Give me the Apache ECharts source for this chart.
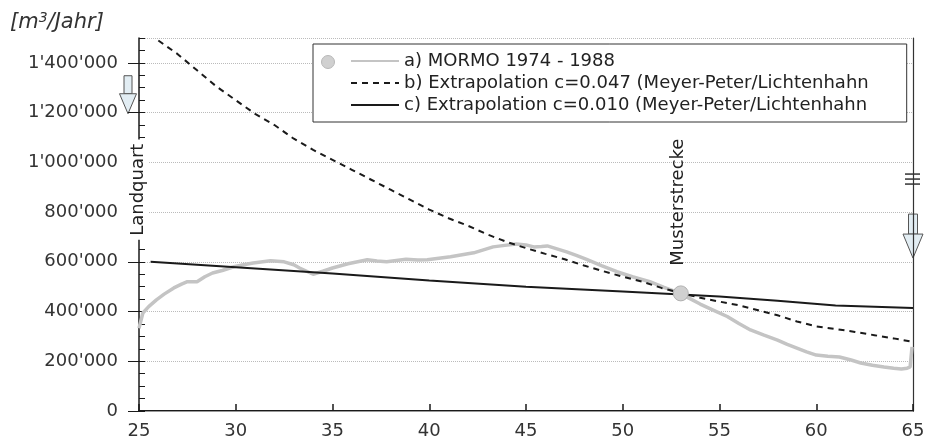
<!DOCTYPE html>
<html>
<head>
<meta charset="utf-8">
<script src="https://cdn.jsdelivr.net/npm/echarts@6/dist/echarts.min.js"></script>
<style>
  html, body { margin: 0; padding: 0; background: #fff; }
  #chart { width: 926px; height: 448px; }
</style>
</head>
<body>
<div id="chart"></div>
<script>
// km (x) and sediment load in m3/year (y)
const mormoX = [25.0, 25.2, 25.5, 25.9, 26.3, 26.8, 27.2, 27.5, 28.0, 28.4, 28.8, 29.3, 29.9, 30.4, 30.9, 31.4,
  31.8, 32.5, 33.0, 33.3, 34.0, 34.5, 35.0, 35.8, 36.8, 37.3, 37.8, 38.3, 38.8, 39.4, 39.9, 40.5, 41.1, 41.7,
  42.3, 42.8, 43.3, 43.9, 44.5, 45.0, 45.4, 45.8, 46.1, 46.6, 47.1, 47.6, 48.1, 48.9, 49.7, 50.5, 51.4, 52.1,
  52.8, 53.4, 54.0, 54.7, 55.4, 56.0, 56.6, 57.3, 58.0, 58.5, 59.0, 59.5, 60.0, 60.6, 61.2, 61.8, 62.3, 62.9,
  63.5, 64.0, 64.4, 64.7, 64.85, 64.95];
const mormoY = [333, 394, 420, 447, 470, 495, 510, 520, 520, 540, 555, 565, 580, 588, 595, 600,
  604, 600, 588, 575, 550, 562, 575, 592, 608, 603, 600, 605, 610, 607, 608, 614, 620, 628,
  636, 648, 660, 666, 672, 668, 660, 662, 664, 652, 640, 626, 611, 585, 560, 540, 520, 498,
  478, 455, 430, 405, 380, 352, 326, 305, 285, 268, 253, 238, 225, 220, 217, 205, 193, 184,
  177, 172, 169, 172, 177, 258].map(v => v * 1000);

const extra047X = [26, 27, 28, 29, 30, 31, 32, 33, 34, 35, 36, 37, 38, 39, 40, 41, 42, 43, 44, 45,
  46, 47, 48, 49, 50, 51, 52, 53, 54, 55, 56, 57, 58, 59, 60, 61, 62, 63, 64, 65];
const extra047Y = [1490, 1435, 1370, 1305, 1250, 1195, 1150, 1095, 1050, 1010, 970, 930, 890, 850, 810, 775,
  745, 710, 680, 655, 632, 610, 585, 562, 540, 520, 495, 475, 455, 440, 425, 405, 385, 360, 340, 330,
  318, 305, 292, 278].map(v => v * 1000);

const extra010X = [25.6, 30, 35, 40, 45, 50, 55, 58, 61, 65];
const extra010Y = [600, 578, 553, 525, 500, 481, 460, 443, 424, 414].map(v => v * 1000);

const seriesNames = [
  'a) MORMO 1974 - 1988',
  'b) Extrapolation c=0.047 (Meyer-Peter/Lichtenhahn',
  'c) Extrapolation c=0.010 (Meyer-Peter/Lichtenhahn'
];
const musterKm = 53;
const musterLoad = 473000;

const zip = (xs, ys) => xs.map((x, i) => [x, ys[i]]);
const fmt = v => String(v).replace(/\B(?=(\d{3})+(?!\d))/g, "'");

const FONT = 'DejaVu Sans';
const chart = echarts.init(document.getElementById('chart'));

const option = {
  animation: false,
  backgroundColor: '#fff',
  title: {
    left: 5,
    top: 6,
    text: '{i|[m}{s|3}{i|/Jahr]}',
    textStyle: {
      fontWeight: 'normal',
      rich: {
        i: { fontFamily: FONT, fontSize: 21, fontStyle: 'italic', fontWeight: 'normal', color: '#333', lineHeight: 24 },
        s: { fontFamily: FONT, fontSize: 14, fontStyle: 'italic', fontWeight: 'normal', color: '#333', verticalAlign: 'top', lineHeight: 24, padding: [0, 0, 6, 0] }
      }
    }
  },
  legend: {
    orient: 'vertical',
    left: 313,
    top: 44,
    padding: [8, 38, 8, 37],
    itemWidth: 48,
    itemHeight: 14,
    itemGap: 4,
    borderColor: '#333',
    borderWidth: 1,
    backgroundColor: '#fff',
    itemStyle: { opacity: 0 },
    textStyle: { fontFamily: FONT, fontSize: 18, color: '#222', lineHeight: 18 },
    data: seriesNames
  },
  grid: { left: 139, right: 13, top: 38, bottom: 37, outerBoundsMode: 'none' },
  xAxis: [
    {
      type: 'value', min: 25, max: 65, interval: 5,
      axisLine: { lineStyle: { color: '#1a1a1a', width: 2 } },
      axisTick: { inside: true, length: 7, lineStyle: { color: '#1a1a1a', width: 1.5 } },
      axisLabel: { fontFamily: FONT, fontSize: 18, color: '#333', margin: 11 },
      splitLine: { show: false }
    },
    {
      type: 'value', min: 25, max: 65, position: 'top',
      axisLine: { lineStyle: { color: '#999', width: 1 } },
      axisTick: { show: false }, axisLabel: { show: false }, splitLine: { show: false }
    }
  ],
  yAxis: [
    {
      type: 'value', min: 0, max: 1500000, interval: 200000, position: 'left',
      axisLine: { show: true, lineStyle: { color: '#1a1a1a', width: 1.5 } },
      axisTick: { show: true, length: 11, lineStyle: { color: '#1a1a1a', width: 1 } },
      axisLabel: { fontFamily: FONT, fontSize: 18, color: '#333', margin: 21, showMaxLabel: false, formatter: fmt },
      splitLine: { show: true, lineStyle: { color: '#bbb', type: 'dotted', width: 1 } }
    },
    {
      type: 'value', min: 0, max: 1500000, interval: 50000, position: 'left',
      axisLine: { show: false },
      axisTick: { show: true, inside: true, length: 6, lineStyle: { color: '#1a1a1a', width: 1 } },
      axisLabel: { show: false }, splitLine: { show: false }
    },
    {
      type: 'value', min: 0, max: 1500000, position: 'right',
      axisLine: { show: true, lineStyle: { color: '#333', width: 1.2 } },
      axisTick: { show: false }, axisLabel: { show: false }, splitLine: { show: false }
    }
  ],
  series: [
    {
      name: seriesNames[0], type: 'line', symbol: 'none',
      data: zip(mormoX, mormoY),
      lineStyle: { color: '#c4c4c4', width: 3.5 },
      itemStyle: { color: '#c4c4c4' },
      markPoint: {
        symbol: 'circle', symbolSize: 15, silent: true,
        label: { show: false },
        itemStyle: { color: '#d0d0d0', borderColor: '#b0b0b0', borderWidth: 1, opacity: 1 },
        data: [{ coord: [musterKm, musterLoad] }]
      },
      z: 2
    },
    {
      name: seriesNames[1], type: 'line', symbol: 'none',
      data: zip(extra047X, extra047Y),
      lineStyle: { color: '#1a1a1a', width: 2, type: [6, 5] },
      itemStyle: { color: '#1a1a1a' },
      z: 3
    },
    {
      name: seriesNames[2], type: 'line', symbol: 'none',
      data: zip(extra010X, extra010Y),
      lineStyle: { color: '#1a1a1a', width: 2 },
      itemStyle: { color: '#1a1a1a' },
      z: 3
    }
  ]
};

chart.setOption(option);

// annotations placed from the axis scales
const px = (x, y) => chart.convertToPixel({ gridIndex: 0 }, [x, y]);
const arrowStyle = { fill: '#e2edf3', stroke: '#555', lineWidth: 1 };
const leftArrow = px(25, 1300000);
const rightArrow = px(65, 800000);
const landquart = px(25, 890000);
const muster = px(musterKm, 840000);
const legendDot = [328, 62];

chart.setOption({
  graphic: [
    {
      type: 'group', x: leftArrow[0] - 11, y: leftArrow[1], z: 10,
      children: [
        { type: 'rect', shape: { x: -4, y: -12, width: 8, height: 18 }, style: arrowStyle },
        { type: 'polygon', shape: { points: [[-8.5, 6], [8.5, 6], [0, 26]] }, style: arrowStyle }
      ]
    },
    {
      type: 'group', x: rightArrow[0], y: rightArrow[1], z: 10,
      children: [
        { type: 'rect', shape: { x: -4.5, y: 2, width: 9, height: 20 }, style: arrowStyle },
        { type: 'polygon', shape: { points: [[-10, 22], [10, 22], [0, 46]] }, style: arrowStyle },
        { type: 'line', shape: { x1: -8, y1: -38, x2: 7, y2: -38 }, style: { stroke: '#333', lineWidth: 1.5 } },
        { type: 'line', shape: { x1: -8, y1: -33, x2: 7, y2: -33 }, style: { stroke: '#333', lineWidth: 1.5 } },
        { type: 'line', shape: { x1: -8, y1: -28, x2: 7, y2: -28 }, style: { stroke: '#333', lineWidth: 1.5 } }
      ]
    },
    {
      type: 'text', x: landquart[0] - 1, y: landquart[1], rotation: Math.PI / 2, z: 10,
      style: {
        text: 'Landquart', fontFamily: FONT, fontSize: 18, fill: '#222',
        align: 'center', verticalAlign: 'middle', backgroundColor: '#fff', padding: [1, 4]
      }
    },
    {
      type: 'text', x: muster[0] - 2, y: muster[1], rotation: Math.PI / 2, z: 10,
      style: {
        text: 'Musterstrecke', fontFamily: FONT, fontSize: 18, fill: '#222',
        align: 'center', verticalAlign: 'middle'
      }
    },
    {
      type: 'circle', x: legendDot[0], y: legendDot[1], z: 20,
      shape: { r: 6.5 }, style: { fill: '#d0d0d0', stroke: '#b8b8b8', lineWidth: 1 }
    }
  ]
});

window.addEventListener('resize', () => chart.resize());
</script>
</body>
</html>
